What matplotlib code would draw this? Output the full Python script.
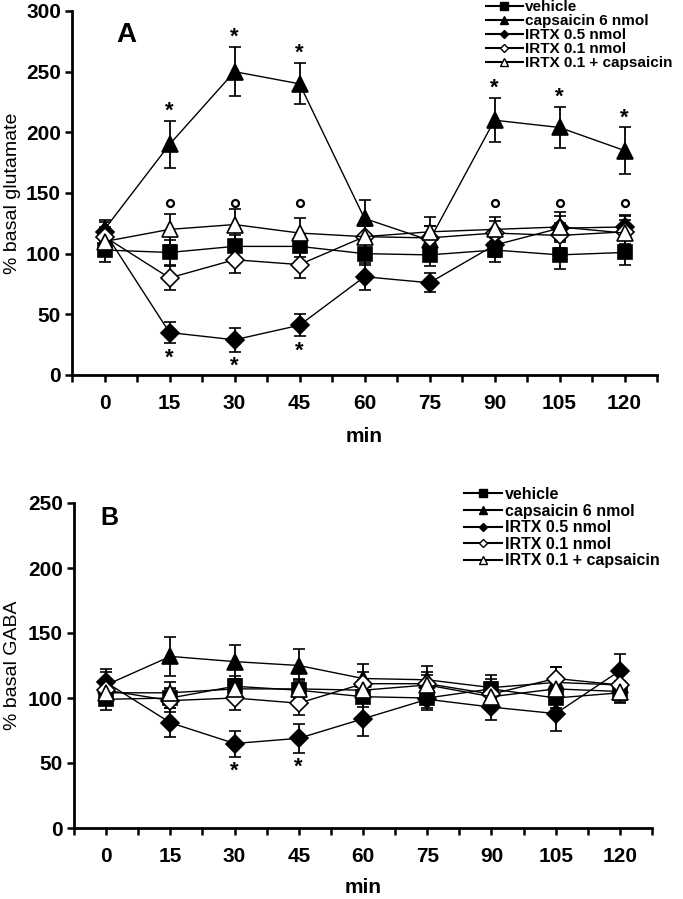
import numpy as np
import matplotlib
matplotlib.use("Agg")
import matplotlib.pyplot as plt
from matplotlib.lines import Line2D

# time points (min)
minutes = [0, 15, 30, 45, 60, 75, 90, 105, 120]

labels = ["vehicle", "capsaicin 6 nmol", "IRTX 0.5 nmol", "IRTX 0.1 nmol",
          "IRTX 0.1 + capsaicin"]

# panel A: % basal glutamate
glu_vehicle = [103, 101, 106, 106, 100, 99, 103, 99, 101]
glu_vehicle_err = [10, 10, 9, 9, 9, 9, 10, 12, 10]
glu_caps = [120, 190, 250, 240, 129, 111, 210, 204, 185]
glu_caps_err = [8, 19, 20, 17, 15, 12, 18, 17, 19]
glu_irtx05 = [118, 35, 29, 41, 81, 76, 107, 121, 122]
glu_irtx05_err = [8, 9, 10, 9, 11, 8, 10, 10, 10]
glu_irtx01 = [114, 80, 95, 91, 114, 113, 117, 115, 118]
glu_irtx01_err = [8, 10, 11, 11, 9, 10, 10, 10, 10]
glu_irtxcap = [110, 120, 124, 117, 114, 118, 120, 122, 117]
glu_irtxcap_err = [8, 13, 13, 12, 10, 12, 10, 12, 14]

# significance marks panel A
glu_star_up = [15, 30, 45, 90, 105, 120]      # * above capsaicin
glu_star_down = [15, 30, 45]                  # * below IRTX 0.5
glu_circle = [15, 30, 45, 90, 105, 120]       # open circle marks
glu_circle_level = 142

# panel B: % basal GABA
gaba_vehicle = [99, 100, 109, 106, 101, 100, 107, 100, 104]
gaba_vehicle_err = [8, 8, 8, 8, 8, 8, 8, 8, 8]
gaba_caps = [110, 132, 128, 125, 115, 114, 108, 112, 110]
gaba_caps_err = [10, 15, 13, 13, 11, 11, 10, 12, 10]
gaba_irtx05 = [112, 81, 65, 69, 84, 99, 93, 88, 121]
gaba_irtx05_err = [10, 11, 10, 11, 13, 8, 10, 13, 13]
gaba_irtx01 = [106, 98, 100, 96, 111, 111, 103, 115, 110]
gaba_irtx01_err = [9, 9, 9, 9, 9, 9, 9, 9, 9]
gaba_irtxcap = [104, 104, 107, 107, 106, 110, 101, 107, 105]
gaba_irtxcap_err = [8, 8, 8, 8, 8, 8, 8, 8, 8]

gaba_star_down = [30, 45]

BOLD = ['Liberation Sans', 'DejaVu Sans']
NARROW = ['Liberation Sans Narrow', 'Liberation Sans', 'DejaVu Sans']

styles = [
    dict(marker='s', mfc='black', ms=10),
    dict(marker='^', mfc='black', ms=11),
    dict(marker='D', mfc='black', ms=9),
    dict(marker='D', mfc='white', ms=9),
    dict(marker='^', mfc='white', ms=11),
]


def draw_panel(ax, series, errs, ymax, xlabelpad):
    for vals, err, st in zip(series, errs, styles):
        ax.errorbar(minutes, vals, yerr=err, color='black', lw=1.0,
                    elinewidth=1.3, capsize=4.5, capthick=1.3,
                    marker=st['marker'], ms=st['ms'], mfc=st['mfc'],
                    mec='black', mew=1.2)
    ax.set_xlim(-7.5, 127.5)
    ax.set_ylim(0, ymax)
    ax.spines['top'].set_visible(False)
    ax.spines['right'].set_visible(False)
    ax.spines['left'].set_linewidth(2.0)
    ax.spines['bottom'].set_linewidth(2.0)
    ax.set_xticks(minutes)
    ax.set_xticks(np.arange(-7.5, 128, 15), minor=True)
    ax.set_yticks(np.arange(0, ymax + 1, 50))
    ax.tick_params(which='both', direction='out', length=5, width=1.8, pad=9)
    for t in ax.get_xticklabels():
        t.set_family(NARROW)
        t.set_fontweight('bold')
        t.set_fontsize(15)
    for t in ax.get_yticklabels():
        t.set_family(BOLD)
        t.set_fontweight('bold')
        t.set_fontsize(15)
    ax.tick_params(axis='y', pad=3)
    ax.set_xlabel('min', family=NARROW, fontweight='bold', fontsize=15,
                  labelpad=xlabelpad)


def make_legend(ax, anchor, fontsize, family, spacing):
    handles = [Line2D([], [], color='black', lw=1.5, marker=st['marker'],
                      mfc=st['mfc'], mec='black',
                      ms=5.5 if st['marker'] != 'D' else 4.5, mew=1.0)
               for st in styles]
    leg = ax.legend(handles, labels, loc='upper left', bbox_to_anchor=anchor,
                    bbox_transform=fig.transFigure, frameon=False,
                    handlelength=2.4, handletextpad=0.15, borderpad=0,
                    borderaxespad=0, labelspacing=spacing,
                    prop=dict(family=family, weight='bold', size=fontsize))
    return leg


fig = plt.figure(figsize=(6.83, 8.99), dpi=100)
W, H = 683, 899

# panel A
axA = fig.add_axes([72 / W, 1 - 375 / H, (657 - 72) / W, (375 - 11) / H])
glu = [glu_vehicle, glu_caps, glu_irtx05, glu_irtx01, glu_irtxcap]
glu_err = [glu_vehicle_err, glu_caps_err, glu_irtx05_err, glu_irtx01_err,
           glu_irtxcap_err]
draw_panel(axA, glu, glu_err, 300, 10)

for t in glu_star_up:
    i = minutes.index(t)
    axA.text(t, glu_caps[i] + glu_caps_err[i] + 8, '*', ha='center',
             va='center', fontsize=16, fontweight='bold', family=BOLD)
for t in glu_star_down:
    i = minutes.index(t)
    axA.text(t, glu_irtx05[i] - glu_irtx05_err[i] - 12, '*', ha='center',
             va='center', fontsize=16, fontweight='bold', family=BOLD)
axA.plot(glu_circle, [glu_circle_level] * len(glu_circle), 'o', ms=5,
         mfc='white', mec='black', mew=1.6, clip_on=False)

axA.text(0.075, 0.97, 'A', transform=axA.transAxes, fontsize=20,
         fontweight='bold', family=BOLD, va='top')
fig.text(13 / W, 1 - 193 / H, '% basal glutamate', rotation=90,
         ha='center', va='center', fontsize=14, family=BOLD)
make_legend(axA, (486 / W, 1 - 0 / H), 11, BOLD, 0.0)

# panel B
axB = fig.add_axes([74 / W, 1 - 828 / H, (652 - 74) / W, (828 - 503) / H])
gaba = [gaba_vehicle, gaba_caps, gaba_irtx05, gaba_irtx01, gaba_irtxcap]
gaba_err = [gaba_vehicle_err, gaba_caps_err, gaba_irtx05_err,
            gaba_irtx01_err, gaba_irtxcap_err]
draw_panel(axB, gaba, gaba_err, 250, 8)

for t in gaba_star_down:
    i = minutes.index(t)
    axB.text(t, gaba_irtx05[i] - gaba_irtx05_err[i] - 11, '*', ha='center',
             va='center', fontsize=16, fontweight='bold', family=BOLD)

axB.text(0.045, 0.99, 'B', transform=axB.transAxes, fontsize=18,
         fontweight='bold', family=BOLD, va='top')
fig.text(13 / W, 1 - 665 / H, '% basal GABA', rotation=90,
         ha='center', va='center', fontsize=14, family=BOLD)
make_legend(axB, (464 / W, 1 - 487 / H), 11.5, NARROW, 0.1)

fig.savefig('out.png', dpi=100)
